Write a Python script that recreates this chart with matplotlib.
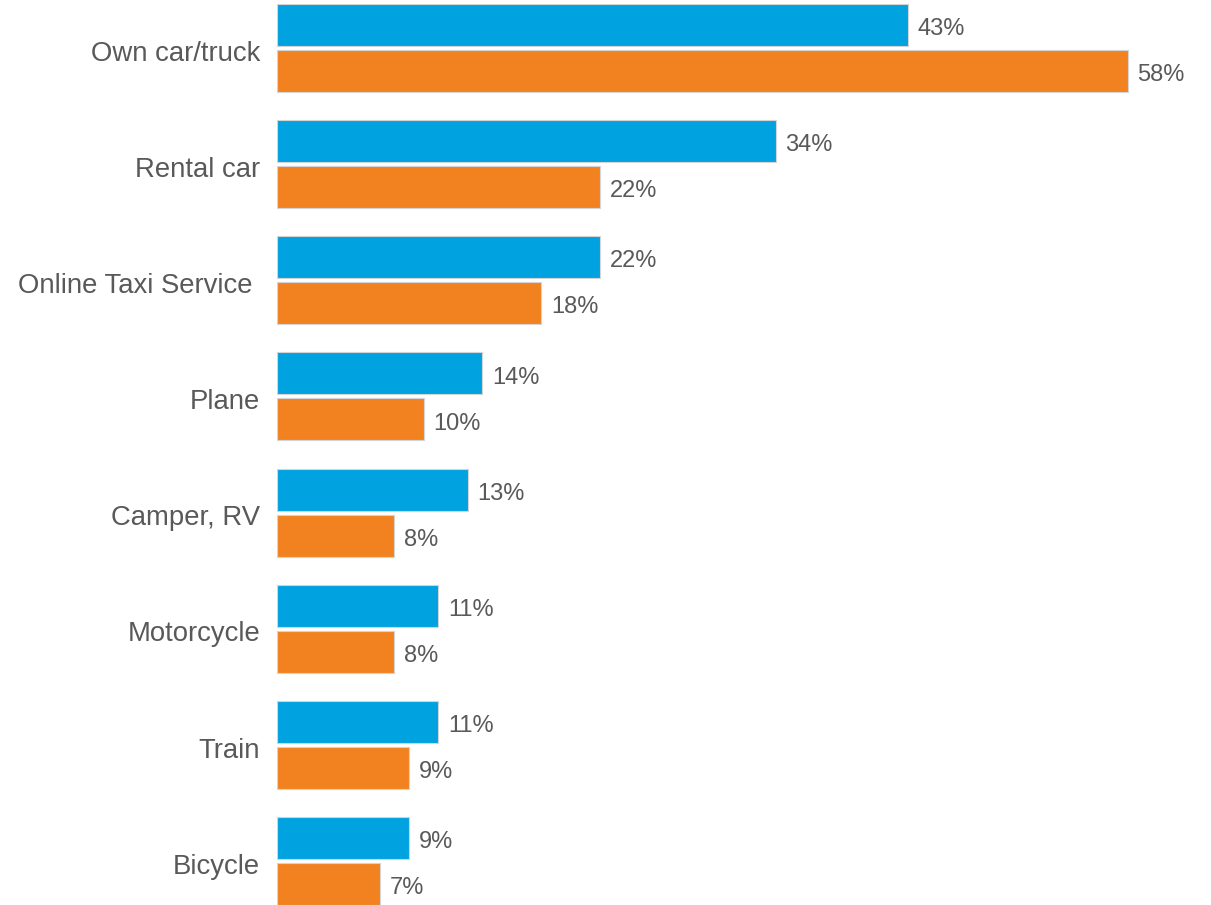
import numpy as np
import matplotlib.pyplot as plt
from matplotlib.transforms import ScaledTranslation

categories = ['Own car/truck', 'Rental car', 'Online Taxi Service ', 'Plane',
              'Camper, RV', 'Motorcycle', 'Train', 'Bicycle']
series_blue = [43, 34, 22, 14, 13, 11, 11, 9]
series_orange = [58, 22, 18, 10, 8, 8, 9, 7]

plt.rcParams['font.family'] = ['Liberation Sans', 'DejaVu Sans']
text_color = '#595959'

fig = plt.figure(figsize=(12.11, 9.05), dpi=100)
ax = fig.add_axes([277 / 1211, 0, (1211 - 277) / 1211, 901 / 905])

y = np.arange(len(categories))
h = 0.362
off = 0.198
bars1 = ax.barh(y - off, series_blue, height=h, color='#00A2E0',
                edgecolor='#d4d4d4', linewidth=0.8)
bars2 = ax.barh(y + off, series_orange, height=h, color='#F2821F',
                edgecolor='#d4d4d4', linewidth=0.8)

for bars, vals in [(bars1, series_blue), (bars2, series_orange)]:
    for b, v in zip(bars, vals):
        ax.annotate(f'{v}%', (b.get_width(), b.get_y() + b.get_height() / 2),
                    xytext=(7, -3), textcoords='offset points',
                    ha='left', va='center', fontsize=17, color=text_color)

ax.set_xlim(0, 63.67)
ax.set_ylim(7.379, -0.379)
ax.set_yticks(y)
ax.set_yticklabels(categories, fontsize=19.8, color=text_color)
ax.tick_params(axis='y', length=0, pad=12)
# nudge category labels down a little
for lbl in ax.get_yticklabels():
    lbl.set_transform(lbl.get_transform() + ScaledTranslation(0, -2 / 72, fig.dpi_scale_trans))
ax.set_xticks([])
for s in ax.spines.values():
    s.set_visible(False)

fig.savefig('out.png', dpi=100)
